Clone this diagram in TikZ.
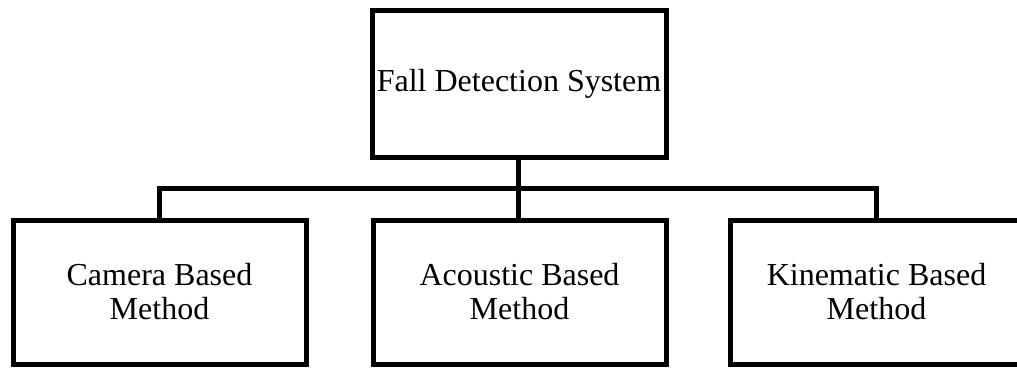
\documentclass[tikz,border=0pt]{standalone}
\usepackage{fontspec}
\setmainfont{Liberation Serif}
\usepackage{tikz}
\usetikzlibrary{calc}

\tikzset{
    methodbox/.style={draw, line width=5pt, minimum width=293pt, minimum height=144pt,
        align=center, font=\fontsize{32}{34}\selectfont, inner sep=0pt},
    link/.style={line width=5pt}
}

\begin{document}
\begin{tikzpicture}[x=1pt, y=-1pt]
        \useasboundingbox (0, 0) rectangle (1017, 367);
        \clip (0, 0) rectangle (1017, 367);

        \node[methodbox, minimum width=294pt, minimum height=147pt] (fds) at (519, 83.5) {Fall Detection System};

        \node[methodbox] (camera) at (159.5, 292) {Camera Based\\Method};
        \node[methodbox] (acoustic) at (519.5, 292) {Acoustic Based\\Method};
        \node[methodbox] (kinematic) at (876.5, 292) {Kinematic Based\\Method};

        \coordinate (bus) at (518, 188);

        \draw[link] (fds.south -| bus) -- (acoustic.north -| bus);
        \draw[link] (camera.north) -- (camera.north |- bus) -- (kinematic.north |- bus) -- (kinematic.north);
    \end{tikzpicture}
\end{document}
